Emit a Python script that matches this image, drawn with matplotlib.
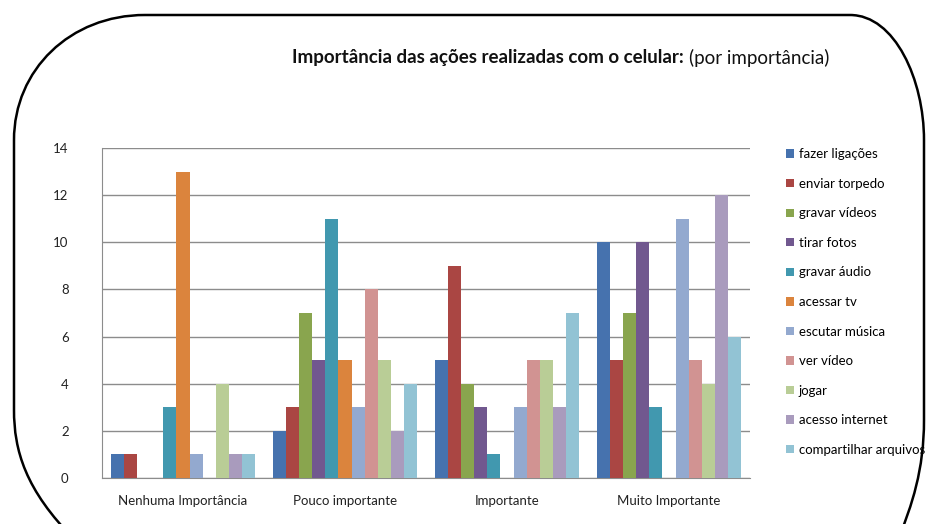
import matplotlib
matplotlib.use("Agg")
import matplotlib.pyplot as plt
import numpy as np
from matplotlib.path import Path
from matplotlib.patches import PathPatch

plt.rcParams['font.family'] = ['Lato', 'DejaVu Sans']

# Daten aus dem Diagramm
categories = ['Nenhuma Importância', 'Pouco importante', 'Importante', 'Muito Importante']
series = ['fazer ligações', 'enviar torpedo', 'gravar vídeos', 'tirar fotos', 'gravar áudio',
          'acessar tv', 'escutar música', 'ver vídeo', 'jogar', 'acesso internet',
          'compartilhar arquivos']
fazer_ligacoes = [1, 2, 5, 10]
enviar_torpedo = [1, 3, 9, 5]
gravar_videos = [0, 7, 4, 7]
tirar_fotos = [0, 5, 3, 10]
gravar_audio = [3, 11, 1, 3]
acessar_tv = [13, 5, 0, 0]
escutar_musica = [1, 3, 3, 11]
ver_video = [0, 8, 5, 5]
jogar = [4, 5, 5, 4]
acesso_internet = [1, 2, 3, 12]
compartilhar = [1, 4, 7, 6]
values = [fazer_ligacoes, enviar_torpedo, gravar_videos, tirar_fotos, gravar_audio,
          acessar_tv, escutar_musica, ver_video, jogar, acesso_internet, compartilhar]

colors = ['#4672AE', '#AA4643', '#89A54E', '#71588F', '#4198AF', '#DB843D',
          '#93A9CF', '#D19392', '#B9CD96', '#A99BBD', '#92C3D4']

W, H = 926, 524
fig = plt.figure(figsize=(W / 100, H / 100), dpi=100)

# Rahmen mit abgerundeten Ecken (Pixelkoordinaten -> Figurkoordinaten)
def px(x, y):
    return (x / W, 1 - y / H)

verts = [px(14, 140), px(14, 70), px(70, 15), px(145, 15),
         px(850, 15), px(895, 15), px(924, 80), px(924, 140),
         px(924, 420), px(924, 470), px(912, 505), px(898, 540),
         px(75, 540), px(25, 490), px(14, 450), px(14, 410),
         px(14, 140)]
codes = [Path.MOVETO, Path.CURVE4, Path.CURVE4, Path.CURVE4,
         Path.LINETO, Path.CURVE4, Path.CURVE4, Path.CURVE4,
         Path.LINETO, Path.CURVE4, Path.CURVE4, Path.CURVE4,
         Path.MOVETO, Path.CURVE4, Path.CURVE4, Path.CURVE4,
         Path.LINETO]
fig.add_artist(PathPatch(Path(verts, codes), transform=fig.transFigure,
                         facecolor='none', edgecolor='black', linewidth=1.8))

# Titel
fig.text(684 / W, 1 - 58 / H, 'Importância das ações realizadas com o celular:',
         ha='right', va='center', fontsize=13.5, fontweight='bold', color='#111111')
fig.text(689 / W, 1 - 58 / H, '(por importância)',
         ha='left', va='center', fontsize=13.5, color='#111111')

ax = fig.add_axes([102 / W, 46 / H, 648 / W, 330 / H])
x = np.arange(len(categories))
w = 1 / 12.4
for i, (name, vals) in enumerate(zip(series, values)):
    ax.bar(x + (i - 5) * w, vals, width=w, color=colors[i], label=name, zorder=3)

ax.set_xlim(-0.5, 3.5)
ax.set_ylim(0, 14)
ax.set_yticks(range(0, 15, 2))
ax.set_xticks(x)
ax.set_xticklabels(categories)
ax.yaxis.grid(True, color='#8c8c8c', linewidth=1, zorder=0)
for s in ['top', 'right']:
    ax.spines[s].set_visible(False)
for s in ['left', 'bottom']:
    ax.spines[s].set_color('#8c8c8c')
ax.tick_params(axis='both', length=0, labelsize=9.5, colors='#222222')
ax.tick_params(axis='y', pad=24)
ax.tick_params(axis='x', pad=12)

fig.legend(loc='upper left', bbox_to_anchor=(781 / W, 1 - 143 / H), frameon=False,
           fontsize=9.5, handlelength=0.6, handleheight=0.6, handletextpad=0.35,
           labelspacing=1.33, borderaxespad=0)

fig.savefig('out.png', dpi=100)
